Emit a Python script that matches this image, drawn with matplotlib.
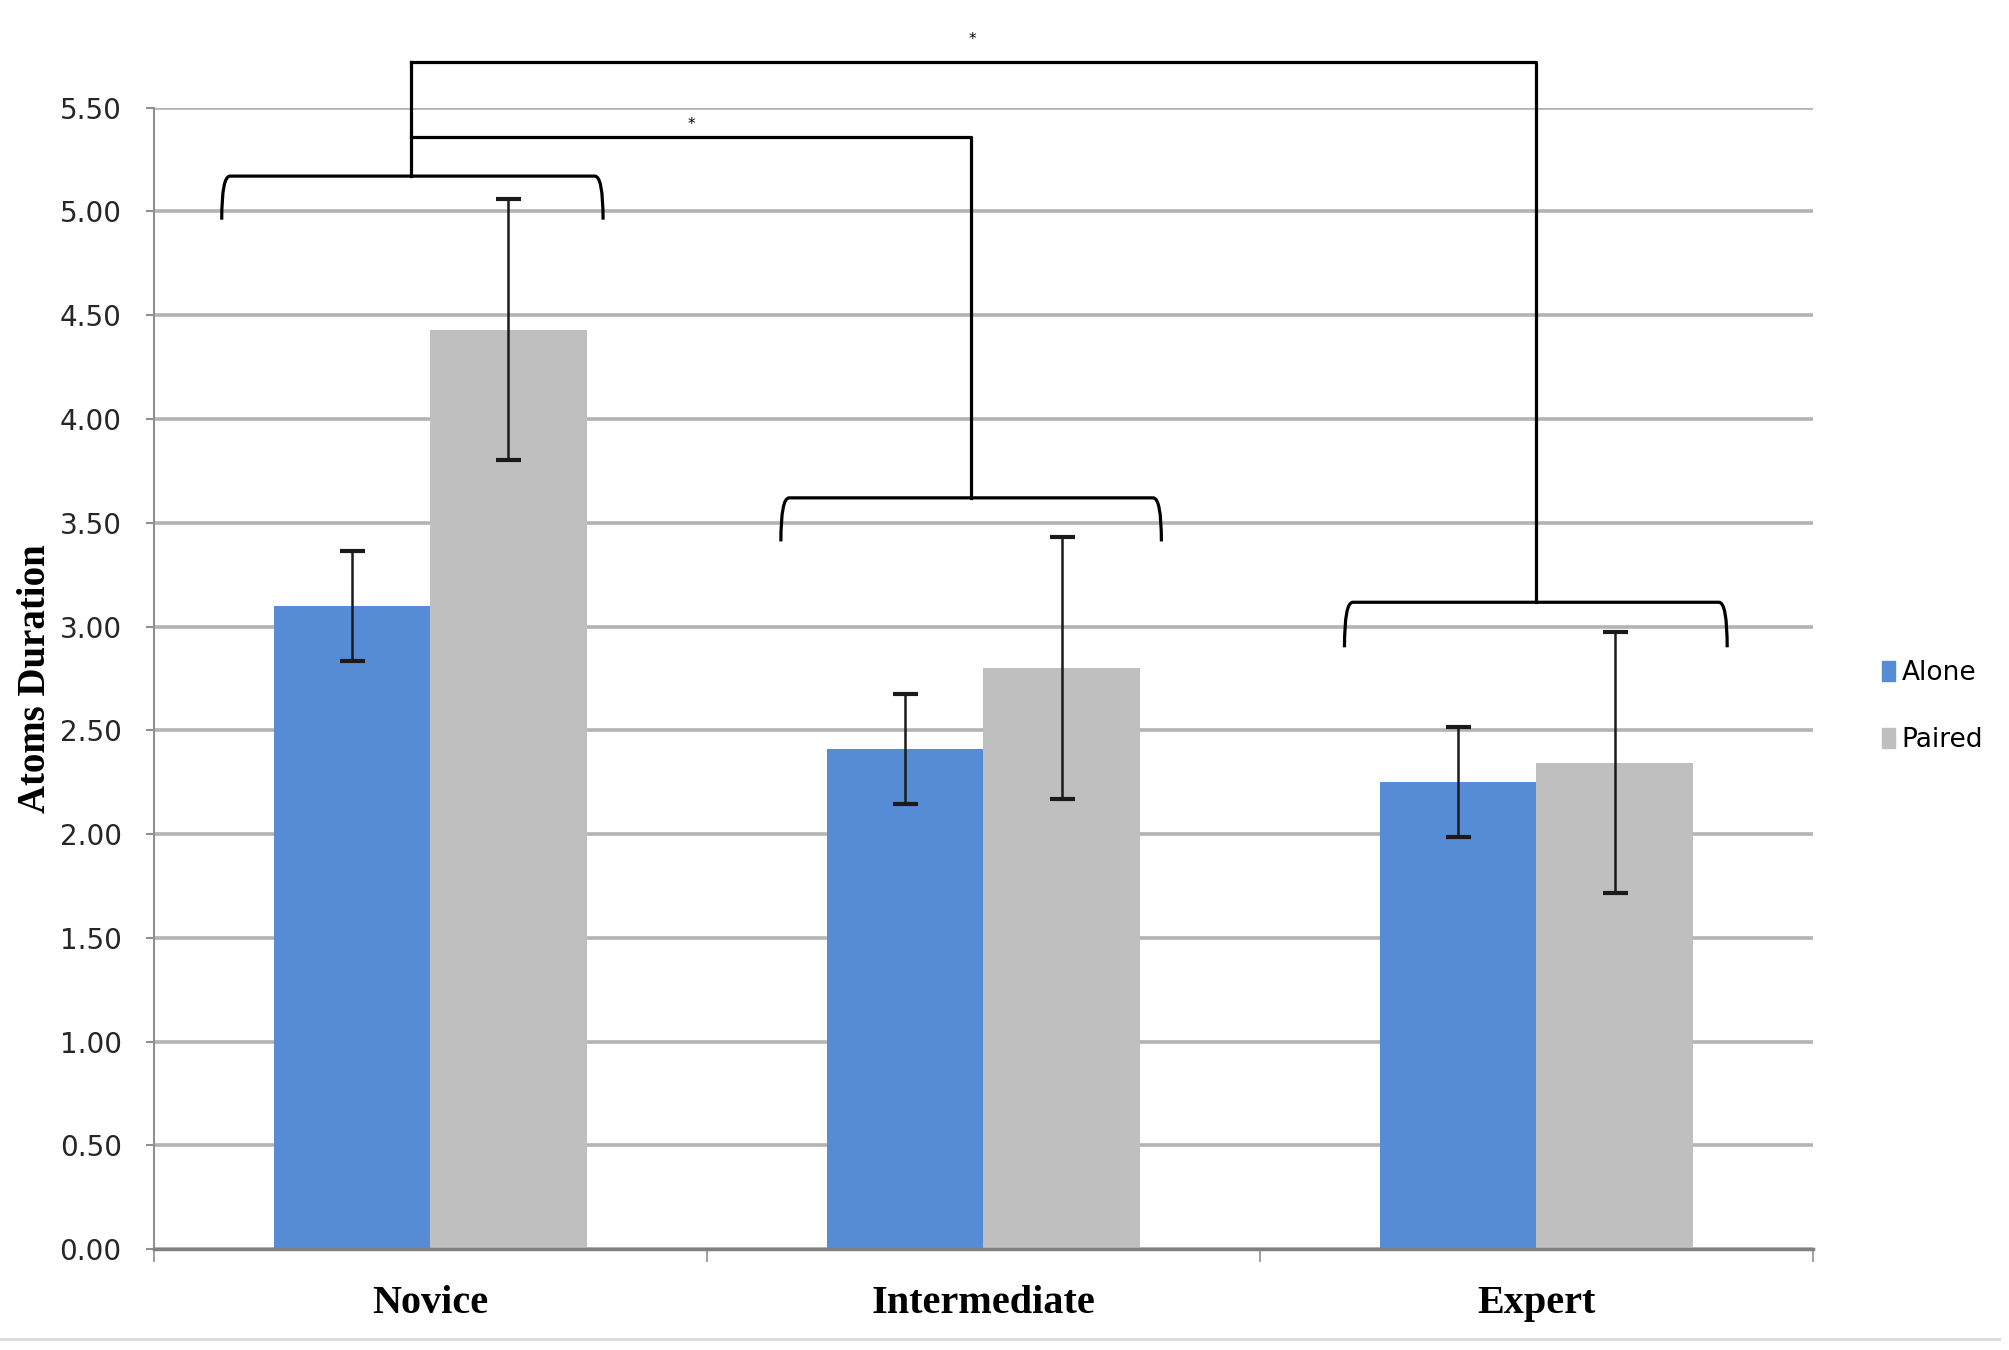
import matplotlib.pyplot as plt
from matplotlib.path import Path
from matplotlib.patches import PathPatch, Patch
import numpy as np

categories = ["Novice", "Intermediate", "Expert"]
alone = [3.10, 2.41, 2.25]
alone_err = [0.265, 0.265, 0.265]
paired = [4.43, 2.80, 2.345]
paired_err = [0.63, 0.63, 0.63]
yticks = [0.0, 0.5, 1.0, 1.5, 2.0, 2.5, 3.0, 3.5, 4.0, 4.5, 5.0, 5.5]

blue = "#558CD5"
grey = "#BFBFBF"

fig = plt.figure(figsize=(20.09, 13.5), dpi=100)
ax = fig.add_axes([0.0765, 0.0746, 0.8259, 0.8457])

x = np.arange(len(categories))
w = 0.283
ax.bar(x - w / 2, alone, w, color=blue, zorder=2)
ax.bar(x + w / 2, paired, w, color=grey, zorder=2)
ax.errorbar(x - w / 2, alone, yerr=alone_err, fmt="none", ecolor="#1a1a1a",
            elinewidth=1.8, capsize=9, capthick=3, zorder=3)
ax.errorbar(x + w / 2, paired, yerr=paired_err, fmt="none", ecolor="#1a1a1a",
            elinewidth=1.8, capsize=9, capthick=3, zorder=3)

ax.set_xlim(-0.5, 2.5)
ax.set_ylim(0, 5.5)
ax.set_yticks(yticks)
ax.set_yticklabels([f"{v:.2f}" for v in yticks], fontsize=20, color="#262626")
ax.yaxis.grid(True, color="#b3b3b3", linewidth=2.6, zorder=0)
ax.set_axisbelow(True)
ax.tick_params(axis="y", length=6, width=1.5, color="#909090", pad=17)

ax.set_xticks(x)
ax.set_xticklabels(categories, fontsize=29, fontweight="bold", family="Liberation Serif")
ax.set_xticks([-0.5, 0.5, 1.5, 2.5], minor=True)
ax.tick_params(axis="x", which="major", length=0, pad=26)
ax.tick_params(axis="x", which="minor", length=9, width=1.2, color="#909090")

for s in ["top", "right"]:
    ax.spines[s].set_visible(False)
ax.spines["left"].set_color("#909090")
ax.spines["left"].set_linewidth(1.5)
ax.spines["bottom"].set_color("#808080")
ax.spines["bottom"].set_linewidth(2.5)

ax.set_ylabel("Atoms Duration", fontsize=28, fontweight="bold", family="Liberation Serif",
              labelpad=4)


def bracket(x0, x1, ytop, ytip, d=0.015):
    verts = [(x0, ytip), (x0, ytop), (x0 + d, ytop), (x1 - d, ytop), (x1, ytop), (x1, ytip)]
    codes = [Path.MOVETO, Path.CURVE3, Path.CURVE3, Path.LINETO, Path.CURVE3, Path.CURVE3]
    ax.add_patch(PathPatch(Path(verts, codes), fill=False, lw=2.3, color="black",
                           clip_on=False, zorder=4))


# brackets over each group
bracket(-0.377, 0.3125, 5.17, 4.96)
bracket(0.634, 1.322, 3.62, 3.41)
bracket(1.653, 2.345, 3.117, 2.90)

# connectors
stem = -0.035
ax.plot([stem, stem], [5.17, 5.72], color="black", lw=2.3, clip_on=False, zorder=4)
ax.plot([stem, 0.977, 0.977], [5.36, 5.36, 3.62], color="black", lw=2.3,
        clip_on=False, zorder=4)
ax.plot([stem, 2.0, 2.0], [5.72, 5.72, 3.117], color="black", lw=2.3,
        clip_on=False, zorder=4)
ax.text(0.472, 5.42, "*", fontsize=11, ha="center", va="center")
ax.text(0.981, 5.83, "*", fontsize=11, ha="center", va="center")

handles = [Patch(color=blue), Patch(color=grey)]
fig.legend(handles, ["Alone", "Paired"], loc="center left", bbox_to_anchor=(0.925, 0.4765),
           frameon=False, fontsize=19, handlelength=0.5, handleheight=0.8,
           handletextpad=0.25, labelspacing=1.55)

fig.add_artist(plt.Line2D([0, 0.995], [0.008, 0.008], color="#d9d9d9", lw=2,
                          transform=fig.transFigure))

fig.savefig("out.png", dpi=100)
